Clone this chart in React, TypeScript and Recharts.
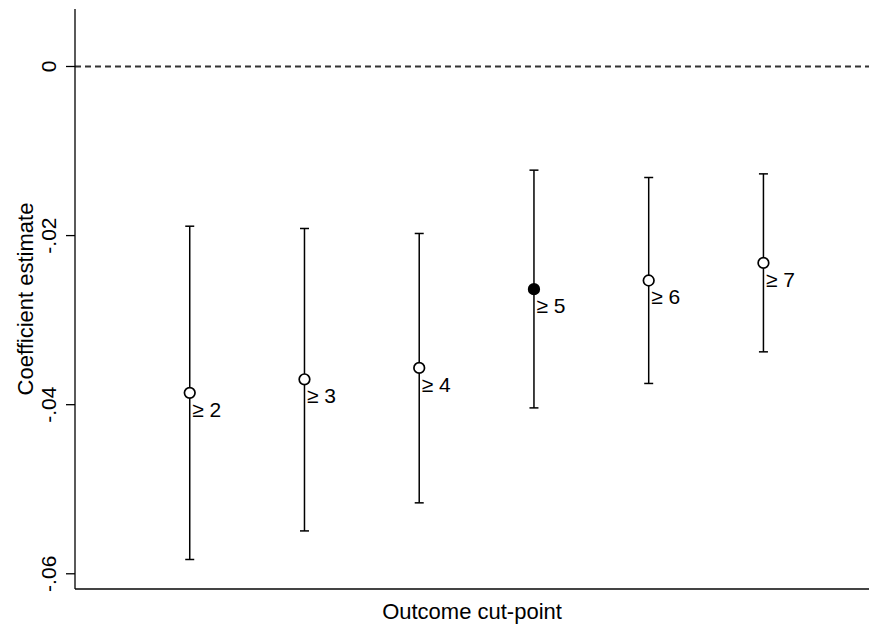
import React from 'react';
import { ComposedChart, Scatter, XAxis, YAxis, ErrorBar, ReferenceLine, LabelList } from 'recharts';

const cutPoints = [2, 3, 4, 5, 6, 7];
const cutLabels = ['≥ 2', '≥ 3', '≥ 4', '≥ 5', '≥ 6', '≥ 7'];
const estimates = [-0.0386, -0.0370, -0.03565, -0.02634, -0.02531, -0.02323];
const lowerCI = [-0.05831, -0.05493, -0.05161, -0.04038, -0.03749, -0.03375];
const upperCI = [-0.01889, -0.01916, -0.01975, -0.01226, -0.01313, -0.0127];
const highlighted = [false, false, false, true, false, false];
const yTicks = [0, -0.02, -0.04, -0.06];
const yTickLabels = ['0', '-.02', '-.04', '-.06'];

const FONT = '"Liberation Sans", Arial, Helvetica, sans-serif';

const data = cutPoints.map((c, i) => ({
  x: c,
  y: estimates[i],
  err: [estimates[i] - lowerCI[i], upperCI[i] - estimates[i]],
  label: cutLabels[i],
  filled: highlighted[i],
}));

const PointShape = (props: any) => {
  const { cx, cy, payload } = props;
  return (
    <circle
      cx={cx}
      cy={cy}
      r={5.3}
      fill={payload && payload.filled ? '#000' : '#fff'}
      stroke="#000"
      strokeWidth={1.7}
    />
  );
};

const YTick = (props: any) => {
  const { x, y, payload } = props;
  const idx = yTicks.indexOf(payload.value);
  const text = idx >= 0 ? yTickLabels[idx] : String(payload.value);
  return (
    <g transform={`translate(${x - 10.5},${y}) rotate(-90)`}>
      <text textAnchor="middle" fontSize={21} fontFamily={FONT} fill="#000">
        {text}
      </text>
    </g>
  );
};

const PointLabel = (props: any) => {
  const { x, y, value } = props;
  return (
    <text x={x + 7} y={y + 28.5} fontSize={21} fontFamily={FONT} fill="#000">
      {value}
    </text>
  );
};

const YLabel = (props: any) => {
  const vb = props.viewBox || {};
  const bx = (vb.x || 0) + 33;
  const cy = (vb.y || 0) + (vb.height || 0) / 2;
  return (
    <g transform={`translate(${bx},${cy}) rotate(-90)`}>
      <text textAnchor="middle" fontSize={22} fontFamily={FONT} fill="#000">
        Coefficient estimate
      </text>
    </g>
  );
};

const XLabel = (props: any) => {
  const vb = props.viewBox || {};
  const cx = (vb.x || 0) + (vb.width || 0) / 2;
  const by = (vb.y || 0) + 30;
  return (
    <text x={cx} y={by} textAnchor="middle" fontSize={22} fontFamily={FONT} fill="#000">
      Outcome cut-point
    </text>
  );
};

export default function App() {
  return (
    <div style={{ position: 'absolute', left: 0, top: 0, width: 869, height: 624, background: '#fff' }}>
      <ComposedChart width={869} height={624} data={data} margin={{ top: 9, right: 0, bottom: 0, left: 0 }}>
        <XAxis
          type="number"
          dataKey="x"
          domain={[1, 7.92]}
          tick={false}
          tickLine={false}
          height={35}
          axisLine={{ stroke: '#444', strokeWidth: 2 }}
          allowDataOverflow
          label={<XLabel />}
        />
        <YAxis
          type="number"
          dataKey="y"
          domain={[-0.0618, 0.0068]}
          ticks={yTicks}
          width={75}
          tickSize={9}
          tickMargin={0}
          tick={<YTick />}
          tickLine={{ stroke: '#000', strokeWidth: 1.3 }}
          axisLine={{ stroke: '#000', strokeWidth: 1.3 }}
          allowDataOverflow
          label={<YLabel />}
        />
        <ReferenceLine y={0} stroke="#333" strokeWidth={1.8} strokeDasharray="6 4" />
        <Scatter data={data} dataKey="y" shape={<PointShape />} isAnimationActive={false}>
          <ErrorBar dataKey="err" direction="y" width={4.5} stroke="#000" strokeWidth={1.5} isAnimationActive={false} />
          <LabelList dataKey="label" content={<PointLabel />} />
        </Scatter>
      </ComposedChart>
    </div>
  );
}
